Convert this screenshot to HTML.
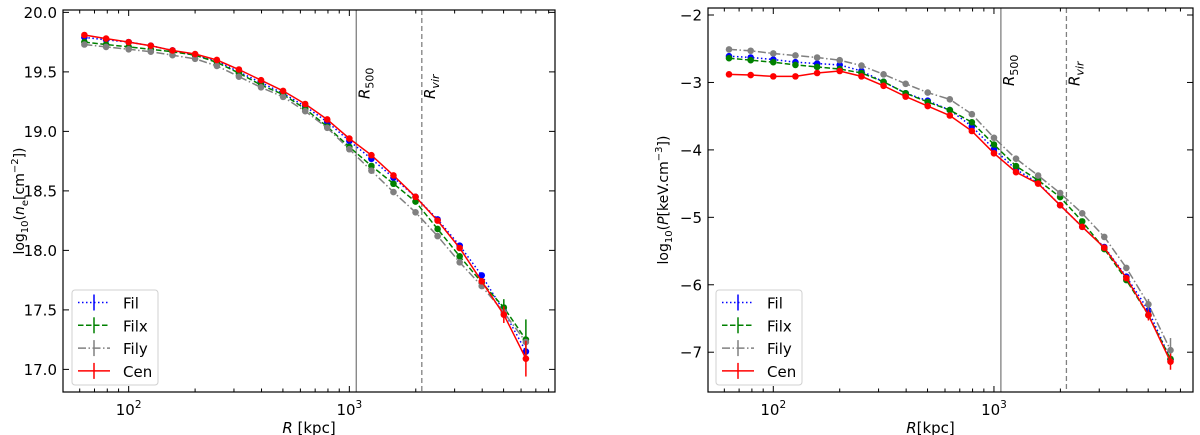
<!DOCTYPE html>
<html><head><meta charset="utf-8">
<style>
html,body{margin:0;padding:0;background:#fff;}
svg{display:block;font-family:"DejaVu Sans","Liberation Sans",sans-serif;}
</style></head>
<body>
<svg id="fig" width="1200" height="435" viewBox="0 0 1200 435" xmlns="http://www.w3.org/2000/svg"></svg>
<script>
const radii = [63,79,100,126,158,200,251,316,398,501,631,794,1000,1259,1585,1995,2512,3162,3981,5012,6310];
const neFil  = [19.79,19.77,19.75,19.72,19.68,19.64,19.59,19.50,19.41,19.32,19.21,19.08,18.92,18.77,18.61,18.45,18.26,18.04,17.79,17.49,17.15];
const neFilx = [19.75,19.73,19.71,19.69,19.67,19.64,19.58,19.49,19.39,19.31,19.19,19.04,18.87,18.71,18.56,18.41,18.18,17.95,17.73,17.52,17.25];
const neFily = [19.73,19.71,19.69,19.67,19.64,19.61,19.55,19.46,19.37,19.29,19.17,19.03,18.85,18.67,18.49,18.32,18.12,17.90,17.70,17.48,17.23];
const neCen  = [19.81,19.78,19.75,19.72,19.68,19.65,19.60,19.52,19.43,19.34,19.23,19.10,18.94,18.80,18.63,18.45,18.25,18.02,17.74,17.46,17.09];
const neErrCen  = [0,0,0,0,0,0,0,0,0,0,0,0,0,0,0,0,0,0,0.02,0.07,0.15];
const neErrFilx = [0,0,0,0,0,0,0,0,0,0,0,0,0,0,0,0,0,0,0.02,0.07,0.17];
const pFil  = [-2.61,-2.63,-2.66,-2.70,-2.72,-2.74,-2.83,-2.99,-3.16,-3.27,-3.41,-3.65,-3.99,-4.29,-4.49,-4.82,-5.14,-5.44,-5.88,-6.38,-7.11];
const pFilx = [-2.64,-2.67,-2.70,-2.74,-2.77,-2.80,-2.86,-2.99,-3.16,-3.29,-3.41,-3.59,-3.92,-4.24,-4.45,-4.70,-5.06,-5.47,-5.93,-6.45,-7.10];
const pFily = [-2.51,-2.53,-2.57,-2.60,-2.63,-2.67,-2.75,-2.88,-3.02,-3.15,-3.25,-3.47,-3.82,-4.13,-4.38,-4.64,-4.94,-5.29,-5.75,-6.29,-6.97];
const pCen  = [-2.88,-2.89,-2.91,-2.91,-2.86,-2.83,-2.91,-3.05,-3.21,-3.35,-3.49,-3.72,-4.05,-4.33,-4.50,-4.82,-5.14,-5.45,-5.90,-6.45,-7.14];
const pErrCen  = [0,0,0,0,0,0,0,0,0,0,0,0,0,0,0,0,0,0,0.03,0.08,0.12];
const pErrFily = [0,0,0,0,0,0,0,0,0,0,0,0,0,0,0,0,0,0,0.03,0.08,0.18];
const leftYTicks = ["17.0","17.5","18.0","18.5","19.0","19.5","20.0"];
const rightYTicks = ["-7","-6","-5","-4","-3","-2"];
const xMajorTicks = [100,1000];
const R500 = 1075, RVIR = 2130;

const NS="http://www.w3.org/2000/svg";
const svg=document.getElementById('fig');
function mk(tag,attrs,parent){const e=document.createElementNS(NS,tag);for(const k in attrs)e.setAttribute(k,attrs[k]);(parent||svg).appendChild(e);return e;}

function panel(cfg){
  const g=mk('g',{});
  
  
  const L=cfg.L,R=cfg.R,T=cfg.T,B=cfg.B;
  const lx0=Math.log10(cfg.xmin),lx1=Math.log10(cfg.xmax);
  const X=v=>L+(Math.log10(v)-lx0)/(lx1-lx0)*(R-L);
  const Y=v=>T+(cfg.ymax-v)/(cfg.ymax-cfg.ymin)*(B-T);
  // x minor/major ticks
  for(let d=10;d<=10000;d*=10){for(let m=1;m<10;m++){const v=d*m;if(v<cfg.xmin||v>cfg.xmax)continue;const x=X(v);const len=m===1?6:3.5;
    mk('line',{x1:x,x2:x,y1:B,y2:B-len,stroke:'#000','stroke-width':1},g);
    mk('line',{x1:x,x2:x,y1:T,y2:T+len,stroke:'#000','stroke-width':1},g);}}
  xMajorTicks.forEach((v,i)=>{const t=mk('text',{x:X(v),y:B+23,'text-anchor':'middle','font-size':15},g);
    
    t.innerHTML='10<tspan font-size="10.5" dy="-7">'+(i+2)+'</tspan>';});
  cfg.yticks.forEach(s=>{const v=parseFloat(s);const y=Y(v);
    mk('line',{x1:L,x2:L+6,y1:y,y2:y,stroke:'#000','stroke-width':1},g);
    mk('line',{x1:R,x2:R-6,y1:y,y2:y,stroke:'#000','stroke-width':1},g);
    const t=mk('text',{x:L-6,y:y+5.5,'text-anchor':'end','font-size':15},g);
    
    t.textContent=s.replace('-','\u2212');});
  // reference lines
  const x5=X(R500),xv=X(RVIR);
  const l1=mk('line',{x1:x5,x2:x5,y1:T,y2:B,stroke:'#808080','stroke-width':1.3},g);
  
  const l2=mk('line',{x1:xv,x2:xv,y1:T,y2:B,stroke:'#808080','stroke-width':1.3,'stroke-dasharray':'5,3'},g);
  
  let t=mk('text',{transform:`translate(${x5+13},${cfg.labY}) rotate(-90)`,'font-size':15},g);
  
  t.innerHTML='<tspan font-style="italic">R</tspan><tspan font-size="11" dy="4">500</tspan>';
  t=mk('text',{transform:`translate(${xv+13},${cfg.labY}) rotate(-90)`,'font-size':15},g);
  
  t.innerHTML='<tspan font-style="italic">R</tspan><tspan font-size="11" font-style="italic" dy="4">vir</tspan>';
  // series
  cfg.series.forEach(s=>{
    const sg=mk('g',{},g);
    
    
    const pts=radii.map((r,i)=>X(r).toFixed(1)+','+Y(s.vals[i]).toFixed(1)).join(' ');
    mk('polyline',{points:pts,fill:'none',stroke:s.color,'stroke-width':1.5,'stroke-dasharray':s.dash||'none'},sg);
    radii.forEach((r,i)=>{
      const e=s.err?s.err[i]:0;
      if(e>0){const eb=mk('line',{x1:X(r),x2:X(r),y1:Y(s.vals[i]+e),y2:Y(s.vals[i]-e),stroke:s.color,'stroke-width':1.5},sg);
        }
      const c=mk('circle',{cx:X(r),cy:Y(s.vals[i]),r:3.3,fill:s.color},sg);
      
    });
  });
  // frame
  mk('rect',{x:L,y:T,width:R-L,height:B-T,fill:'none',stroke:'#000','stroke-width':1.2},g);
  // axis titles
  t=mk('text',{x:(L+R)/2+cfg.xlabDx,y:B+41,'text-anchor':'middle','font-size':15},g);
  
  t.innerHTML=cfg.xlabel;
  t=mk('text',{transform:`translate(${cfg.ylabX},${(T+B)/2}) rotate(-90)`,'text-anchor':'middle','font-size':14},g);
  
  t.innerHTML=cfg.ylabel;
  // legend
  const lg=mk('g',{},g);
  
  mk('rect',{x:cfg.legX,y:290,width:86,height:95,rx:3,fill:'#fff','fill-opacity':0.85,stroke:'#d0d0d0','stroke-width':1},lg);
  cfg.series.forEach((s,i)=>{
    const y=302.5+i*22.8;const x0=cfg.legX+6;
    const e=mk('g',{},lg);
    
    mk('line',{x1:x0,x2:x0+32,y1:y,y2:y,stroke:s.color,'stroke-width':1.5,'stroke-dasharray':s.dash||'none'},e);
    mk('line',{x1:x0+16,x2:x0+16,y1:y-8,y2:y+8,stroke:s.color,'stroke-width':1.5},e);
    const tt=mk('text',{x:x0+45,y:y+6,'font-size':15},e);tt.textContent=s.label;
  });
}

panel({name:'density-panel',L:63,R:555,T:10,B:392,xmin:50.4,xmax:8550,ymin:16.81,ymax:20.02,
  yticks:leftYTicks,labY:99,xlabDx:0,ylabX:24,legX:72,
  xlabel:'<tspan font-style="italic">R</tspan> [kpc]',
  ylabel:'log<tspan font-size="10" dy="4">10</tspan><tspan dy="-4">(</tspan><tspan font-style="italic">n</tspan><tspan font-size="10" dy="4">e</tspan><tspan dy="-4">[cm</tspan><tspan font-size="10" dy="-6">−2</tspan><tspan dy="6">])</tspan>',
  series:[
    {label:'Fil',vals:neFil,color:'#0000ff',dash:'1.5,2.5'},
    {label:'Filx',vals:neFilx,color:'#008000',dash:'5.5,2.5',err:neErrFilx},
    {label:'Fily',vals:neFily,color:'#808080',dash:'8,2.5,1.5,2.5'},
    {label:'Cen',vals:neCen,color:'#ff0000',err:neErrCen}]});
panel({name:'pressure-panel',L:708,R:1193,T:8,B:392,xmin:50.6,xmax:7980,ymin:-7.59,ymax:-1.896,
  yticks:rightYTicks,labY:86,xlabDx:-20,ylabX:668,legX:716,
  xlabel:'<tspan font-style="italic">R</tspan>[kpc]',
  ylabel:'log<tspan font-size="10" dy="4">10</tspan><tspan dy="-4">(</tspan><tspan font-style="italic">P</tspan>[keV.cm<tspan font-size="10" dy="-6">−3</tspan><tspan dy="6">])</tspan>',
  series:[
    {label:'Fil',vals:pFil,color:'#0000ff',dash:'1.5,2.5'},
    {label:'Filx',vals:pFilx,color:'#008000',dash:'5.5,2.5'},
    {label:'Fily',vals:pFily,color:'#808080',dash:'8,2.5,1.5,2.5',err:pErrFily},
    {label:'Cen',vals:pCen,color:'#ff0000',err:pErrCen}]});
</script>
</body></html>
